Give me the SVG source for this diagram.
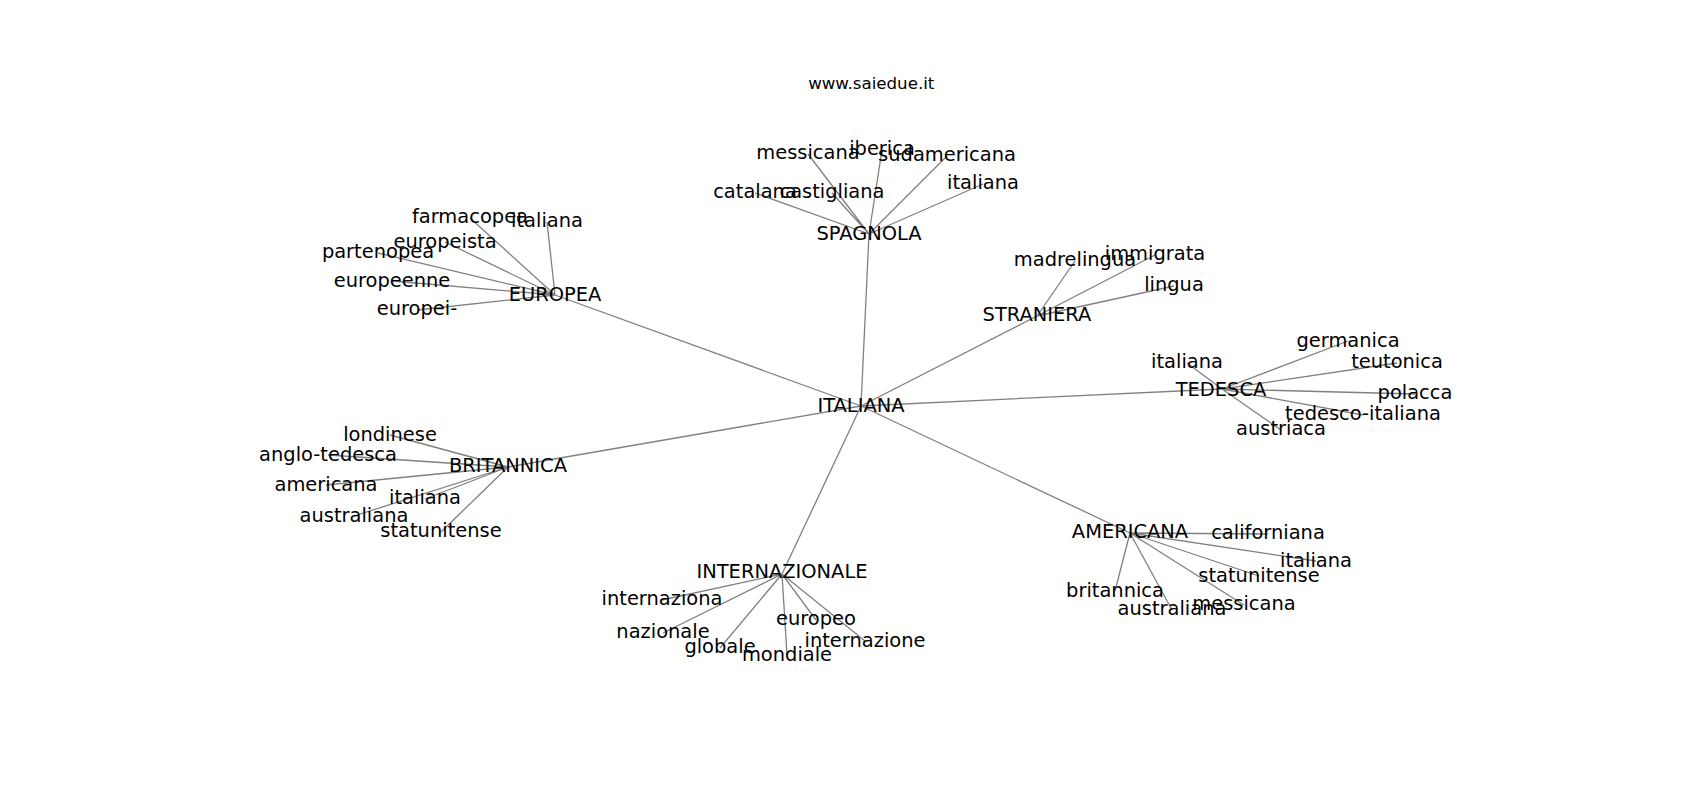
<svg xmlns="http://www.w3.org/2000/svg" width="1700" height="800" viewBox="0 0 1700 800">
<style>
.e{stroke:#808080;stroke-width:1.3;fill:none}
text{font-family:"DejaVu Sans",sans-serif;fill:#000;text-anchor:middle}
.n{font-size:19.44px}
.t{font-size:16.67px}
</style>
<rect width="1700" height="800" fill="#fff"/>
<g id="edges">
<path class="e" d="M861 406L555 295M861 406L869 234M861 406L1037 316M861 406L1222 389M861 406L508 467M861 406L782 574M861 406L1130 533"/>
<path class="e" d="M555 295L470 218M555 295L547 222M555 295L445 242M555 295L378 253M555 295L392 281M555 295L417 310"/>
<path class="e" d="M869 234L808 154M869 234L882 150M869 234L947 156M869 234L983 184M869 234L755 193M869 234L832 193"/>
<path class="e" d="M1037 316L1075 261M1037 316L1155 255M1037 316L1174 286"/>
<path class="e" d="M1222 389L1348 341M1222 389L1187 363M1222 389L1397 363M1222 389L1415 394M1222 389L1363 415M1222 389L1281 430"/>
<path class="e" d="M508 467L390 435M508 467L328 455M508 467L326 485M508 467L425 499M508 467L354 516M508 467L441 532"/>
<path class="e" d="M782 574L662 600M782 574L663 633M782 574L720 648M782 574L787 655M782 574L816 620M782 574L865 641"/>
<path class="e" d="M1130 533L1268 534M1130 533L1316 561M1130 533L1259 576M1130 533L1115 591M1130 533L1244 605M1130 533L1172 610"/>
</g>
<text class="t" x="871.25" y="89">www.saiedue.it</text>
<g id="n-italiana"><text class="n" x="861" y="412">ITALIANA</text></g>
<g id="n-europea"><text class="n" x="555" y="301">EUROPEA</text></g>
<g id="n-europea-farmacopea"><text class="n" x="470" y="223">farmacopea</text></g>
<g id="n-europea-italiana"><text class="n" x="547" y="227">italiana</text></g>
<g id="n-europea-europeista"><text class="n" x="445" y="248">europeista</text></g>
<g id="n-europea-partenopea"><text class="n" x="378" y="258">partenopea</text></g>
<g id="n-europea-europeenne"><text class="n" x="392" y="287">europeenne</text></g>
<g id="n-europea-europei"><text class="n" x="417" y="315">europei-</text></g>
<g id="n-spagnola"><text class="n" x="869" y="240">SPAGNOLA</text></g>
<g id="n-spagnola-messicana"><text class="n" x="808" y="159">messicana</text></g>
<g id="n-spagnola-iberica"><text class="n" x="882" y="155">iberica</text></g>
<g id="n-spagnola-sudamericana"><text class="n" x="947" y="161">sudamericana</text></g>
<g id="n-spagnola-italiana"><text class="n" x="983" y="189">italiana</text></g>
<g id="n-spagnola-catalana"><text class="n" x="755" y="198">catalana</text></g>
<g id="n-spagnola-castigliana"><text class="n" x="832" y="198">castigliana</text></g>
<g id="n-straniera"><text class="n" x="1037" y="321">STRANIERA</text></g>
<g id="n-straniera-madrelingua"><text class="n" x="1075" y="266">madrelingua</text></g>
<g id="n-straniera-immigrata"><text class="n" x="1155" y="260">immigrata</text></g>
<g id="n-straniera-lingua"><text class="n" x="1174" y="291">lingua</text></g>
<g id="n-tedesca"><text class="n" x="1221" y="396">TEDESCA</text></g>
<g id="n-tedesca-germanica"><text class="n" x="1348" y="347">germanica</text></g>
<g id="n-tedesca-italiana"><text class="n" x="1187" y="368">italiana</text></g>
<g id="n-tedesca-teutonica"><text class="n" x="1397" y="368">teutonica</text></g>
<g id="n-tedesca-polacca"><text class="n" x="1415" y="399">polacca</text></g>
<g id="n-tedesca-tedesco-italiana"><text class="n" x="1363" y="420">tedesco-italiana</text></g>
<g id="n-tedesca-austriaca"><text class="n" x="1281" y="435">austriaca</text></g>
<g id="n-britannica"><text class="n" x="508" y="472">BRITANNICA</text></g>
<g id="n-britannica-londinese"><text class="n" x="390" y="441">londinese</text></g>
<g id="n-britannica-anglo-tedesca"><text class="n" x="328" y="461">anglo-tedesca</text></g>
<g id="n-britannica-americana"><text class="n" x="326" y="491">americana</text></g>
<g id="n-britannica-italiana"><text class="n" x="425" y="504">italiana</text></g>
<g id="n-britannica-australiana"><text class="n" x="354" y="522">australiana</text></g>
<g id="n-britannica-statunitense"><text class="n" x="441" y="537">statunitense</text></g>
<g id="n-internazionale"><text class="n" x="782" y="578">INTERNAZIONALE</text></g>
<g id="n-internazionale-internaziona"><text class="n" x="662" y="605">internaziona</text></g>
<g id="n-internazionale-nazionale"><text class="n" x="663" y="638">nazionale</text></g>
<g id="n-internazionale-globale"><text class="n" x="720" y="653">globale</text></g>
<g id="n-internazionale-mondiale"><text class="n" x="787" y="661">mondiale</text></g>
<g id="n-internazionale-europeo"><text class="n" x="816" y="625">europeo</text></g>
<g id="n-internazionale-internazione"><text class="n" x="865" y="647">internazione</text></g>
<g id="n-americana"><text class="n" x="1130" y="538">AMERICANA</text></g>
<g id="n-americana-californiana"><text class="n" x="1268" y="539">californiana</text></g>
<g id="n-americana-italiana"><text class="n" x="1316" y="567">italiana</text></g>
<g id="n-americana-statunitense"><text class="n" x="1259" y="582">statunitense</text></g>
<g id="n-americana-britannica"><text class="n" x="1115" y="597">britannica</text></g>
<g id="n-americana-messicana"><text class="n" x="1244" y="610">messicana</text></g>
<g id="n-americana-australiana"><text class="n" x="1172" y="615">australiana</text></g>
</svg>
